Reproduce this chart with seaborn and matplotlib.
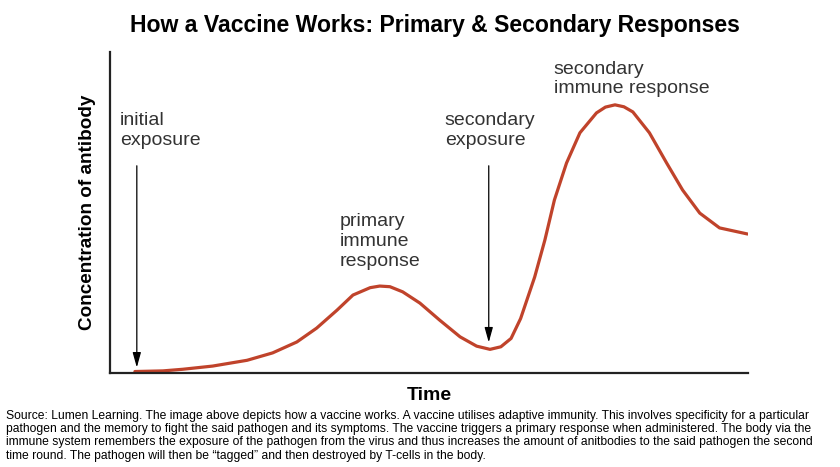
import matplotlib
matplotlib.use("Agg")
import matplotlib.pyplot as plt
import seaborn as sns
import pandas as pd

# antibody curve (time 0-100, concentration 0-100)
time = [3.9, 8.3, 11.4, 16.1, 21.5, 25.5, 29.3, 32.4, 35.6, 38.1, 40.8, 42.3,
        43.9, 45.9, 48.6, 51.7, 54.9, 57.5, 59.6, 61.3, 62.9, 64.4, 66.6, 68.2, 69.7,
        71.6, 73.7, 76.3, 77.7, 79.2, 80.6, 82.0, 84.6, 87.3, 89.8, 92.5, 95.6, 100.0]
antibody = [0.5, 0.7, 1.2, 2.2, 4.0, 6.3, 9.7, 14.0, 19.6, 24.3, 26.6, 27.1,
            26.9, 25.3, 21.8, 16.5, 11.3, 8.4, 7.4, 8.2, 10.8, 17.0, 29.9, 41.4, 53.9,
            65.4, 74.8, 81.0, 82.8, 83.5, 82.9, 81.3, 74.8, 65.4, 57.0, 49.8, 45.2, 43.3]

labels = ["initial\nexposure", "primary\nimmune\nresponse",
          "secondary\nexposure", "secondary\nimmune response"]
label_x = [1.6, 36.0, 52.5, 69.6]
label_y = [81.2, 49.7, 81.2, 97.2]

arrow_x = [4.2, 59.4]
arrow_from = [65.4, 65.4]
arrow_to = [0.9, 8.7]

caption = ("Source: Lumen Learning. The image above depicts how a vaccine works. A vaccine utilises adaptive immunity. This involves specificity for a particular\n"
           "pathogen and the memory to fight the said pathogen and its symptoms. The vaccine triggers a primary response when administered. The body via the\n"
           "immune system remembers the exposure of the pathogen from the virus and thus increases the amount of anitbodies to the said pathogen the second\n"
           "time round. The pathogen will then be \u201ctagged\u201d and then destroyed by T-cells in the body.")

sns.set_style("white")
plt.rcParams['font.family'] = ['Liberation Sans', 'DejaVu Sans']
plt.rcParams['text.color'] = 'black'
plt.rcParams['axes.labelcolor'] = 'black'

df = pd.DataFrame({"time": time, "antibody": antibody})

fig = plt.figure(figsize=(8.4, 4.67), dpi=100)
ax = fig.add_axes([0.131, 0.201, 0.759, 0.688])

sns.lineplot(data=df, x="time", y="antibody", color="#c0432b", linewidth=2.3,
             ax=ax, solid_joinstyle="round", solid_capstyle="round")

ax.set_xlim(0, 100)
ax.set_ylim(0, 100)
ax.set_xticks([])
ax.set_yticks([])
sns.despine(ax=ax)
for s in ["left", "bottom"]:
    ax.spines[s].set_color("#222222")
    ax.spines[s].set_linewidth(1.6)

for txt, x, y in zip(labels, label_x, label_y):
    ax.text(x, y, txt, ha="left", va="top", fontsize=14, color="#333333",
            linespacing=1.2)

for x, y0, y1 in zip(arrow_x, arrow_from, arrow_to):
    ax.annotate("", xy=(x, y1), xytext=(x, y0),
                arrowprops=dict(arrowstyle="-|>,head_width=0.25,head_length=0.9",
                                color="black", lw=0.9))

ax.set_xlabel("Time", fontsize=14, fontweight="bold", labelpad=10)
ax.set_ylabel("Concentration of antibody", fontsize=13.6, fontweight="bold", labelpad=10)

fig.suptitle("How a Vaccine Works: Primary & Secondary Responses",
             fontsize=16.6, fontweight="bold", x=0.518, y=0.97)

fig.text(0.007, 0.123, caption, ha="left", va="top", fontsize=8.7,
         family=['Liberation Sans Narrow', 'Liberation Sans'], linespacing=1.16)

fig.savefig("out.png", dpi=100)
